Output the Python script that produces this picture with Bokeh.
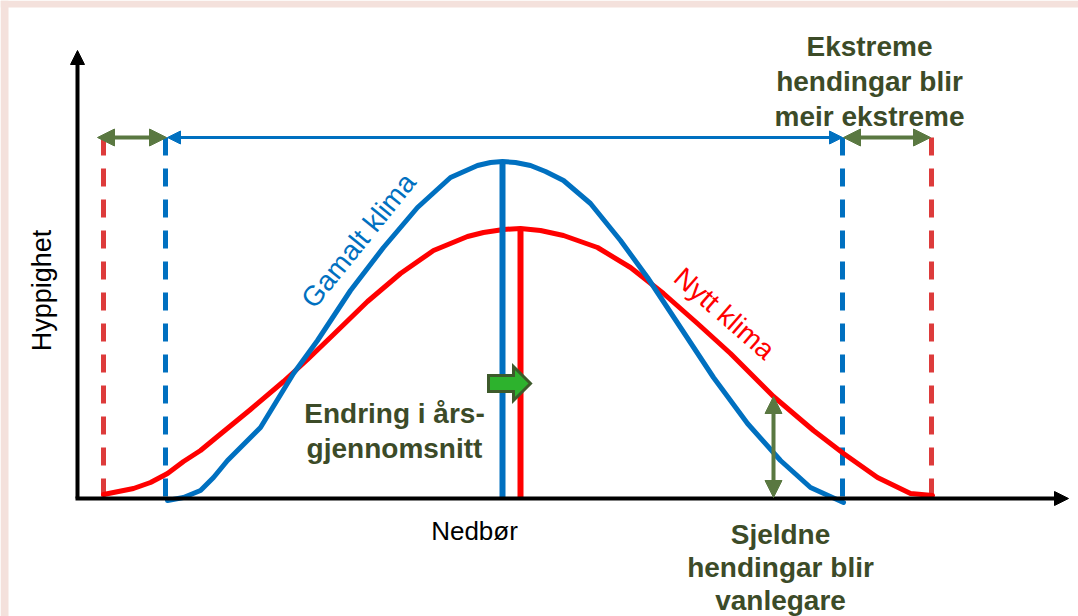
from bokeh.plotting import figure
from bokeh.models import Range1d, Arrow, NormalHead, Label
from bokeh.embed import file_html
from bokeh.resources import INLINE
import math

# ---- data (schematic units; origin at axis corner) ----
old_x = [90, 106, 123, 136, 150, 183, 216, 240, 273, 306, 340, 373, 400, 413, 425,
         438, 453, 468, 486, 513, 543, 570, 603, 636, 670, 703, 733, 766]
old_y = [-2, 1, 8, 21, 38, 71, 125, 158, 208, 251, 291, 321, 333, 336, 337,
         336, 333, 327, 318, 295, 258, 221, 171, 121, 75, 38, 11, -4]
new_x = [26, 56, 73, 90, 106, 123, 140, 173, 206, 230, 256, 290, 323, 356, 390,
         406, 426, 443, 463, 486, 520, 553, 586, 620, 653, 680, 696, 716, 736, 766,
         800, 833, 855]
new_y = [4, 10, 16, 25, 37, 48, 62, 89, 117, 139, 164, 197, 225, 248, 262,
         266, 269, 270, 268, 263, 251, 231, 205, 175, 145, 118, 102, 85, 68, 45,
         21, 5, 3]
old_mean = 425
new_mean = 443
old_extremes = [88, 765]
new_extremes = [26, 854]
rare_x = 696

y_label = "Hyppighet"
x_label = "Nedbør"
old_label = "Gamalt klima"
new_label = "Nytt klima"
mean_label = ["Endring i års-", "gjennomsnitt"]
extreme_label = ["Ekstreme", "hendingar blir", "meir ekstreme"]
rare_label = ["Sjeldne", "hendingar blir", "vanlegare"]

BLUE = "#0070C0"
RED = "#FF0000"
RED_D = "#DD3B3B"
GREEN = "#5A7841"
TXT_G = "#3C4B28"
PINK = "#F4E1DC"
FONT = "Liberation Sans"

X0, X1, Y0, Y1 = -77, 1001, -118, 498
p = figure(width=1078, height=616, x_range=Range1d(X0, X1), y_range=Range1d(Y0, Y1),
           output_backend="svg", toolbar_location=None, x_axis_type=None, y_axis_type=None,
           min_border=0)
p.outline_line_color = None
p.background_fill_color = "white"
p.border_fill_color = "white"

# slide frame strips (left and top)
p.quad(left=[X0, X0], right=[X0 + 8, X1], bottom=[Y0, Y1 - 7], top=[Y1, Y1],
       fill_color=PINK, line_color=None)

top = 361  # level of range arrows

# dashed extreme lines
for xv in old_extremes:
    p.segment(x0=[xv], y0=[top], x1=[xv], y1=[0], line_color=BLUE, line_width=5, line_dash="18 13")
for xv in new_extremes:
    p.segment(x0=[xv], y0=[top], x1=[xv], y1=[0], line_color=RED_D, line_width=5, line_dash="18 13")

# curves
p.line(new_x, new_y, line_color=RED, line_width=5, line_join="round", line_cap="round")
p.line(old_x, old_y, line_color=BLUE, line_width=5, line_join="round", line_cap="round")

# mean lines
p.segment(x0=[old_mean], y0=[0], x1=[old_mean], y1=[max(old_y)], line_color=BLUE, line_width=6)
p.segment(x0=[new_mean], y0=[0], x1=[new_mean], y1=[max(new_y)], line_color=RED, line_width=6)

# axes
p.add_layout(Arrow(x_start=0, y_start=0, x_end=0, y_end=448, line_color="black", line_width=4,
                   end=NormalHead(size=14, fill_color="black", line_color="black")))
p.add_layout(Arrow(x_start=-2, y_start=0, x_end=991, y_end=0, line_color="black", line_width=4,
                   end=NormalHead(size=14, fill_color="black", line_color="black")))

# range arrows
p.add_layout(Arrow(x_start=old_extremes[0] + 2, y_start=top, x_end=old_extremes[1], y_end=top,
                   line_color=BLUE, line_width=3,
                   start=NormalHead(size=13, fill_color=BLUE, line_color=BLUE),
                   end=NormalHead(size=13, fill_color=BLUE, line_color=BLUE)))
gh = dict(size=17, fill_color=GREEN, line_color=GREEN)
p.add_layout(Arrow(x_start=new_extremes[0] - 6, y_start=top, x_end=old_extremes[0] + 1, y_end=top,
                   line_color=GREEN, line_width=4, start=NormalHead(**gh), end=NormalHead(**gh)))
p.add_layout(Arrow(x_start=old_extremes[1] + 1, y_start=top, x_end=new_extremes[1] - 1, y_end=top,
                   line_color=GREEN, line_width=4, start=NormalHead(**gh), end=NormalHead(**gh)))

# rare events arrow
rare_top = new_y[new_x.index(rare_x)]
p.add_layout(Arrow(x_start=rare_x, y_start=1, x_end=rare_x, y_end=rare_top, line_color=GREEN,
                   line_width=4, start=NormalHead(**gh), end=NormalHead(**gh)))

# block arrow showing mean shift
ay = 115
bx0, bx1, tip = old_mean - 14, new_mean - 7, new_mean + 10
p.patch([bx0, bx1, bx1, tip, bx1, bx1, bx0],
        [ay + 8, ay + 8, ay + 17, ay, ay - 17, ay - 8, ay - 8],
        fill_color="#2DB22D", line_color="#3D5A2B", line_width=3, line_join="miter")

# texts
def lab(x, y, t, size, color, bold=False, angle=0.0, align="center", base="alphabetic"):
    p.add_layout(Label(x=x, y=y, text=t, text_font=FONT, text_font_size=size, text_color=color,
                       text_font_style="bold" if bold else "normal", angle=angle,
                       text_align=align, text_baseline=base))

lab(-36, 208, y_label, "27px", "black", angle=math.pi / 2, base="middle")
lab(397, -32, x_label, "26px", "black", base="middle")
lab(281, 258, old_label, "28px", BLUE, angle=math.radians(51), base="middle")
lab(647, 185, new_label, "28px", RED, angle=math.radians(-41), base="middle")

for i, t in enumerate(mean_label):
    lab(317, 85 - 35 * i, t, "28px", TXT_G, bold=True)
for i, t in enumerate(extreme_label):
    lab(792, 452 - 35 * i, t, "28px", TXT_G, bold=True)
for i, t in enumerate(rare_label):
    lab(703, -36 - 33 * i, t, "28px", TXT_G, bold=True)

open("out.html", "w").write(file_html(p, INLINE))
